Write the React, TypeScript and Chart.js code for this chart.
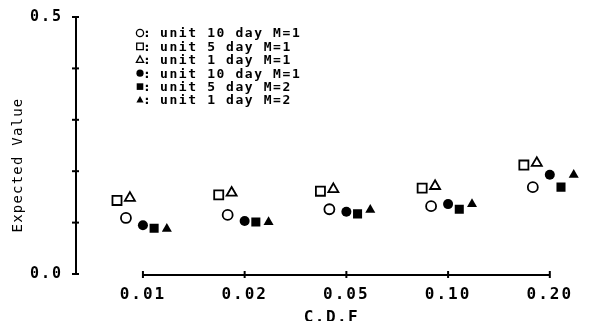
import React, { useEffect, useRef } from 'react';
import { Chart, registerables } from 'chart.js';

Chart.register(...registerables);

const categories = ['0.01', '0.02', '0.05', '0.10', '0.20'];
const seriesLabels = [
  'unit 10 day M=1',
  'unit 5 day M=1',
  'unit 1 day M=1',
  'unit 10 day M=1',
  'unit 5 day M=2',
  'unit 1 day M=2',
];
const openCircle10M1 = [0.109, 0.115, 0.126, 0.132, 0.169];
const openSquare5M1 = [0.143, 0.154, 0.161, 0.167, 0.212];
const openTriangle1M1 = [0.148, 0.158, 0.165, 0.171, 0.216];
const filledCircle10M2 = [0.095, 0.103, 0.121, 0.136, 0.193];
const filledSquare5M2 = [0.089, 0.101, 0.117, 0.126, 0.169];
const filledTriangle1M2 = [0.088, 0.101, 0.125, 0.136, 0.193];
const yTickValues = [0, 0.1, 0.2, 0.3, 0.4, 0.5];
const yTickLabels = ['0.0', '', '', '', '', '0.5'];
const xTitle = 'C.D.F';
const yTitle = 'Expected Value';

const MONO = '"DejaVu Sans Mono", "Liberation Mono", monospace';

type Style = { point: string; filled: boolean; radius: number; offset: number };
const styles: Style[] = [
  { point: 'circle', filled: false, radius: 5, offset: -0.167 },
  { point: 'rect', filled: false, radius: 6.4, offset: -0.255 },
  { point: 'triangle', filled: false, radius: 5.8, offset: -0.128 },
  { point: 'circle', filled: true, radius: 5, offset: 0 },
  { point: 'rect', filled: true, radius: 6.4, offset: 0.11 },
  { point: 'triangle', filled: true, radius: 5.8, offset: 0.235 },
];
const seriesValues = [
  openCircle10M1,
  openSquare5M1,
  openTriangle1M1,
  filledCircle10M2,
  filledSquare5M2,
  filledTriangle1M2,
];

function drawMarker(ctx: CanvasRenderingContext2D, kind: string, filled: boolean, x: number, y: number, s: number) {
  ctx.beginPath();
  if (kind === 'circle') {
    ctx.arc(x, y, s, 0, Math.PI * 2);
  } else if (kind === 'rect') {
    ctx.rect(x - s, y - s, 2 * s, 2 * s);
  } else {
    ctx.moveTo(x, y - s * 1.1);
    ctx.lineTo(x + s, y + s * 0.7);
    ctx.lineTo(x - s, y + s * 0.7);
    ctx.closePath();
  }
  if (filled) {
    ctx.fill();
  } else {
    ctx.stroke();
  }
}

const decorPlugin = {
  id: 'decor',
  beforeDraw(chart: any) {
    (chart.ctx as any).letterSpacing = '2px';
  },
  afterDraw(chart: any) {
    const ctx: CanvasRenderingContext2D = chart.ctx;
    const xs = chart.scales.x;
    const ys = chart.scales.y;
    ctx.save();
    ctx.strokeStyle = '#000';
    ctx.fillStyle = '#000';
    ctx.lineWidth = 2;
    // y axis
    const ax = chart.chartArea.left;
    ctx.beginPath();
    ctx.moveTo(ax, ys.getPixelForValue(0.5));
    ctx.lineTo(ax, ys.getPixelForValue(0));
    ctx.stroke();
    yTickValues.forEach((v) => {
      const py = ys.getPixelForValue(v);
      ctx.beginPath();
      ctx.moveTo(ax - 4, py);
      ctx.lineTo(ax + 3, py);
      ctx.stroke();
    });
    // x axis
    const ay = ys.getPixelForValue(0) + 1;
    ctx.beginPath();
    ctx.moveTo(xs.getPixelForValue(0), ay);
    ctx.lineTo(xs.getPixelForValue(categories.length - 1), ay);
    ctx.stroke();
    categories.forEach((_, i) => {
      const px = xs.getPixelForValue(i);
      ctx.beginPath();
      ctx.moveTo(px, ay - 4);
      ctx.lineTo(px, ay + 3);
      ctx.stroke();
    });
    // titles
    (ctx as any).letterSpacing = '1.4px';
    ctx.font = `bold 16px ${MONO}`;
    ctx.textAlign = 'center';
    ctx.textBaseline = 'middle';
    ctx.fillText(xTitle, (chart.chartArea.left + chart.chartArea.right) / 2 + 1, 318);
    ctx.save();
    ctx.translate(18, 165);
    ctx.rotate(-Math.PI / 2);
    (ctx as any).letterSpacing = '1.2px';
    ctx.font = `14px ${MONO}`;
    ctx.fillText(yTitle, 0, 0);
    ctx.restore();
    // legend
    ctx.font = `bold 13px ${MONO}`;
    (ctx as any).letterSpacing = '1.6px';
    ctx.textAlign = 'left';
    ctx.lineWidth = 1.3;
    seriesLabels.forEach((label, i) => {
      const ly = 33 + i * 13.4;
      const st = styles[i];
      drawMarker(ctx, st.point, st.filled, 140, ly, st.point === 'rect' ? 3.3 : 3.6);
      ctx.fillText(':', 143, ly + 1);
      ctx.fillText(label, 160, ly + 1);
    });
    ctx.restore();
  },
};

export default function App() {
  const ref = useRef<HTMLCanvasElement>(null);
  useEffect(() => {
    document.body.style.margin = '0';
    const canvas = ref.current!;
    const datasets = seriesValues.map((vals, si) => {
      const st = styles[si];
      return {
        label: seriesLabels[si],
        data: vals.map((v, i) => ({ x: i + st.offset, y: v })),
        pointStyle: st.point,
        pointRadius: st.radius,
        pointHoverRadius: st.radius,
        backgroundColor: st.filled ? '#000' : 'rgba(255,255,255,0)',
        borderColor: '#000',
        borderWidth: st.filled ? 0 : 1.8,
        showLine: false,
      };
    });
    const chart = new Chart(canvas, {
      type: 'scatter',
      data: { datasets: datasets as any },
      plugins: [decorPlugin],
      options: {
        responsive: false,
        animation: false,
        devicePixelRatio: 1,
        layout: { padding: { left: 0, top: 17, right: 8, bottom: 0 } },
        plugins: { legend: { display: false }, tooltip: { enabled: false } },
        scales: {
          x: {
            type: 'linear',
            min: -0.658,
            max: 4.344,
            grid: { display: false },
            border: { display: false },
            afterBuildTicks: (s: any) => {
              s.ticks = categories.map((_, i) => ({ value: i }));
            },
            afterFit: (s: any) => {
              s.height = 47;
            },
            ticks: {
              autoSkip: false,
              maxRotation: 0,
              padding: 3,
              color: '#000',
              font: { family: MONO, size: 16, weight: 'bold' },
              callback: (v: any) => categories[Math.round(Number(v))] ?? '',
            },
          },
          y: {
            type: 'linear',
            min: 0,
            max: 0.5,
            grid: { display: false },
            border: { display: false },
            afterBuildTicks: (s: any) => {
              s.ticks = yTickValues.map((v) => ({ value: v }));
            },
            afterFit: (s: any) => {
              s.width = 76;
            },
            ticks: {
              autoSkip: false,
              padding: 5,
              color: '#000',
              font: { family: MONO, size: 15, weight: 'bold' },
              callback: (v: any) => {
                const idx = yTickValues.findIndex((t) => Math.abs(t - Number(v)) < 1e-9);
                return idx >= 0 ? yTickLabels[idx] : '';
              },
            },
          },
        },
      },
    });
    return () => chart.destroy();
  }, []);
  return <canvas ref={ref} width={593} height={321} style={{ display: 'block' }} />;
}
